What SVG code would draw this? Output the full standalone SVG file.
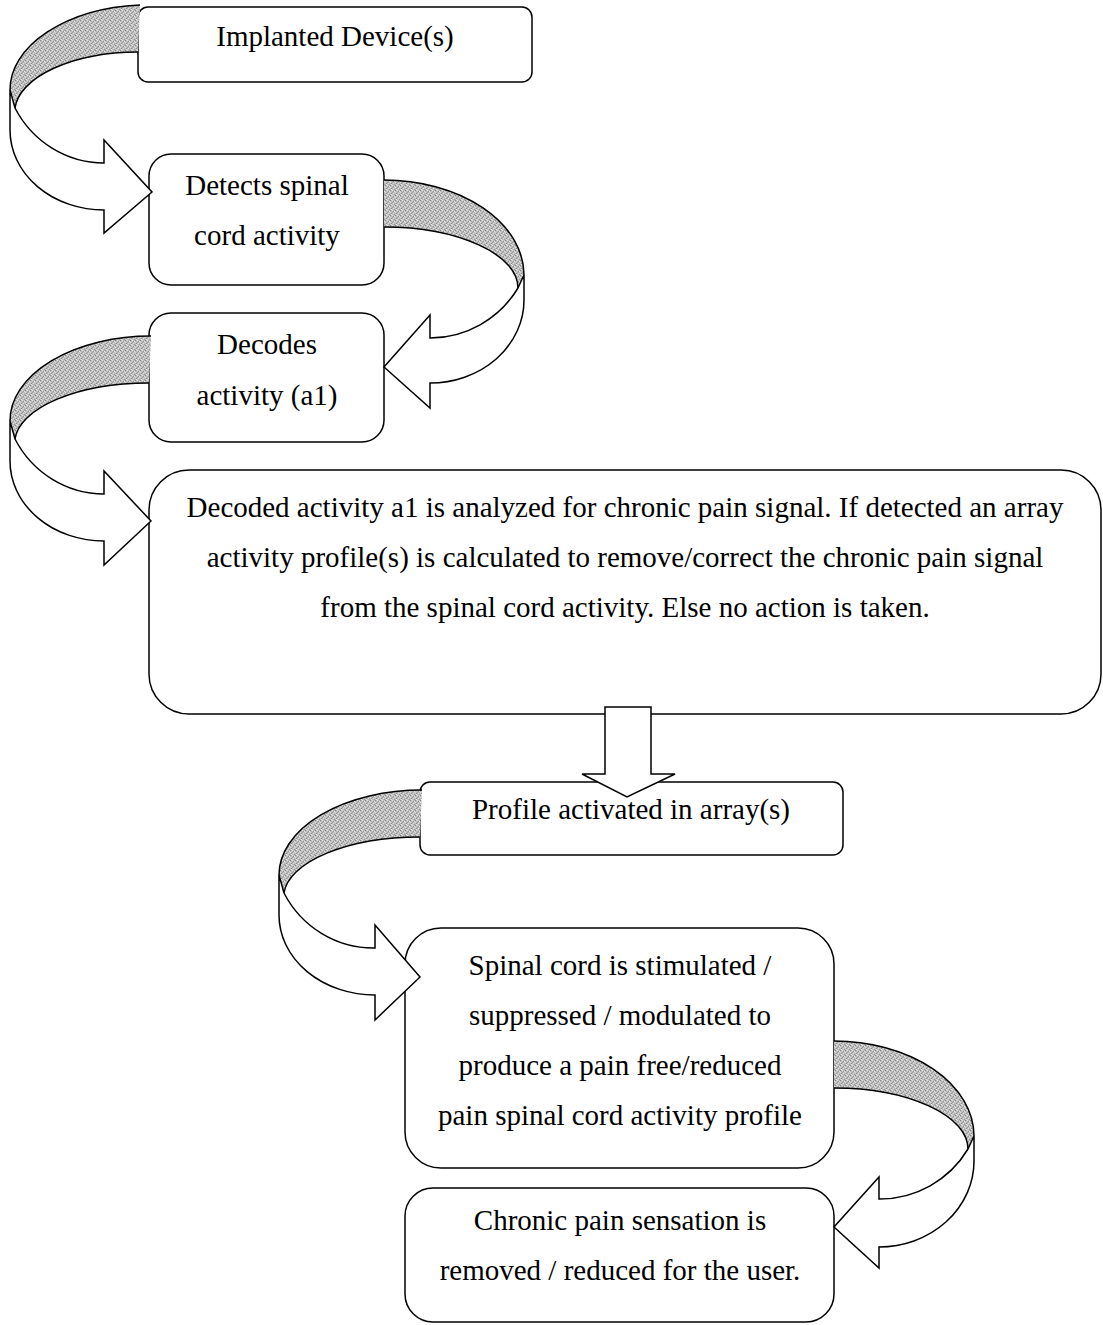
<svg xmlns="http://www.w3.org/2000/svg" width="1103" height="1325" viewBox="0 0 1103 1325">
  <defs>
    <!-- speckled grey used for the back face of the curved arrows -->
    <pattern id="stipple" width="5" height="5" patternUnits="userSpaceOnUse">
      <rect width="5" height="5" fill="#bdbdbd"/>
      <rect x="0" y="0" width="1" height="1" fill="#858585"/>
      <rect x="3" y="1" width="1" height="1" fill="#929292"/>
      <rect x="1" y="3" width="1" height="1" fill="#888888"/>
      <rect x="4" y="4" width="1" height="1" fill="#989898"/>
      <rect x="2" y="2" width="1" height="1" fill="#a0a0a0"/>
      <rect x="2" y="0" width="1" height="1" fill="#e2e2e2"/>
      <rect x="0" y="2" width="1" height="1" fill="#dcdcdc"/>
      <rect x="4" y="1" width="1" height="1" fill="#e6e6e6"/>
      <rect x="3" y="3" width="1" height="1" fill="#dedede"/>
      <rect x="1" y="4" width="1" height="1" fill="#e8e8e8"/>
    </pattern>
  </defs>
  <style>
    .box { fill: #ffffff; stroke: #000000; stroke-width: 1.5; }
    .lbl { font-family: "Liberation Serif", "Times New Roman", serif; font-size: 29px; fill: #000000; text-anchor: middle; }
    .shade { fill: url(#stipple); stroke: none; }
    .edge { fill: none; stroke: #000000; stroke-width: 1.5; }
    .face { fill: #ffffff; stroke: #000000; stroke-width: 1.5; stroke-linejoin: miter; }
  </style>
  <rect width="1103" height="1325" fill="#ffffff"/>

  <g id="nodes">
    <g id="implanted-device">
      <rect class="box" x="138" y="7" width="394" height="75" rx="10"/>
      <text class="lbl" x="335" y="46">Implanted Device(s)</text>
    </g>
    <g id="detects-activity">
      <rect class="box" x="149" y="154" width="235" height="131" rx="22"/>
      <text class="lbl" x="267" y="195">Detects spinal</text>
      <text class="lbl" x="267" y="245">cord activity</text>
    </g>
    <g id="decodes-activity">
      <rect class="box" x="149" y="313" width="235" height="129" rx="22"/>
      <text class="lbl" x="267" y="354">Decodes</text>
      <text class="lbl" x="267" y="405">activity (a1)</text>
    </g>
    <g id="analysis">
      <rect class="box" x="149" y="470" width="952" height="244" rx="40"/>
      <text class="lbl" x="625" y="517">Decoded activity a1 is analyzed for chronic pain signal. If detected an array</text>
      <text class="lbl" x="625" y="567">activity profile(s) is calculated to remove/correct the chronic pain signal</text>
      <text class="lbl" x="625" y="617">from the spinal cord activity. Else no action is taken.</text>
    </g>
    <g id="profile-activated">
      <rect class="box" x="420" y="782" width="423" height="73" rx="10"/>
      <text class="lbl" x="631" y="819">Profile activated in array(s)</text>
    </g>
    <g id="stimulation">
      <rect class="box" x="405" y="928" width="429" height="240" rx="36"/>
      <text class="lbl" x="620" y="975">Spinal cord is stimulated /</text>
      <text class="lbl" x="620" y="1025">suppressed / modulated to</text>
      <text class="lbl" x="620" y="1075">produce a pain free/reduced</text>
      <text class="lbl" x="620" y="1125">pain spinal cord activity profile</text>
    </g>
    <g id="pain-reduced">
      <rect class="box" x="405" y="1188" width="429" height="134" rx="28"/>
      <text class="lbl" x="620" y="1230">Chronic pain sensation is</text>
      <text class="lbl" x="620" y="1280">removed / reduced for the user.</text>
    </g>
  </g>

  <g id="connectors">
    <!-- implanted device -> detects (curves round the left) -->
    <g>
      <path class="shade" d="M140,5 A140,85 0 0 0 10,90 L15,108 A124,60 0 0 1 138,52 Z"/>
      <path class="edge" d="M140,5 A140,85 0 0 0 10,90 M15,108 A124,60 0 0 1 138,52"/>
      <path class="face" d="M10,90 L10,130 A94,80 0 0 0 104,210 L104,233 L152,192 L104,140 L104,163 A101,103 0 0 1 15,108 Z"/>
    </g>
    <!-- detects -> decodes (curves round the right) -->
    <g>
      <path class="shade" d="M384,180 A140,95 0 0 1 524,275 L518,288 A134,61 0 0 0 384,227 Z"/>
      <path class="edge" d="M384,180 A140,95 0 0 1 524,275 M518,288 A134,61 0 0 0 384,227"/>
      <path class="face" d="M524,275 L524,300 A94,83 0 0 1 430,383 L430,408 L384,367 L430,315 L430,338 A103,103 0 0 0 518,288 Z"/>
    </g>
    <!-- decodes -> analysis (curves round the left) -->
    <g>
      <path class="shade" d="M151,336 A141,85 0 0 0 10,421 L15,439 A134,60 0 0 1 149,383 Z"/>
      <path class="edge" d="M151,336 A141,85 0 0 0 10,421 M15,439 A134,60 0 0 1 149,383"/>
      <path class="face" d="M10,421 L10,461 A94,80 0 0 0 104,541 L104,565 L151,521 L104,471 L104,494 A101,103 0 0 1 15,439 Z"/>
    </g>
    <!-- analysis -> profile activated (straight block arrow) -->
    <path class="face" d="M605,707 L651,707 L651,774 L675,774 L627,797 L582,774 L605,774 Z"/>
    <!-- profile activated -> stimulation (curves round the left) -->
    <g>
      <path class="shade" d="M422,790 A143,85 0 0 0 279,875 L284,893 A136,60 0 0 1 420,837 Z"/>
      <path class="edge" d="M422,790 A143,85 0 0 0 279,875 M284,893 A136,60 0 0 1 420,837"/>
      <path class="face" d="M279,875 L279,915 A96,80 0 0 0 375,995 L375,1020 L420,977 L375,925 L375,948 A101,103 0 0 1 284,893 Z"/>
    </g>
    <!-- stimulation -> pain reduced (curves round the right) -->
    <g>
      <path class="shade" d="M834,1041 A140,95 0 0 1 974,1136 L968,1149 A134,61 0 0 0 834,1088 Z"/>
      <path class="edge" d="M834,1041 A140,95 0 0 1 974,1136 M968,1149 A134,61 0 0 0 834,1088"/>
      <path class="face" d="M974,1136 L974,1161 A95,86 0 0 1 879,1247 L879,1268 L834,1227 L879,1177 L879,1199 A103,103 0 0 0 968,1149 Z"/>
    </g>
  </g>
</svg>
